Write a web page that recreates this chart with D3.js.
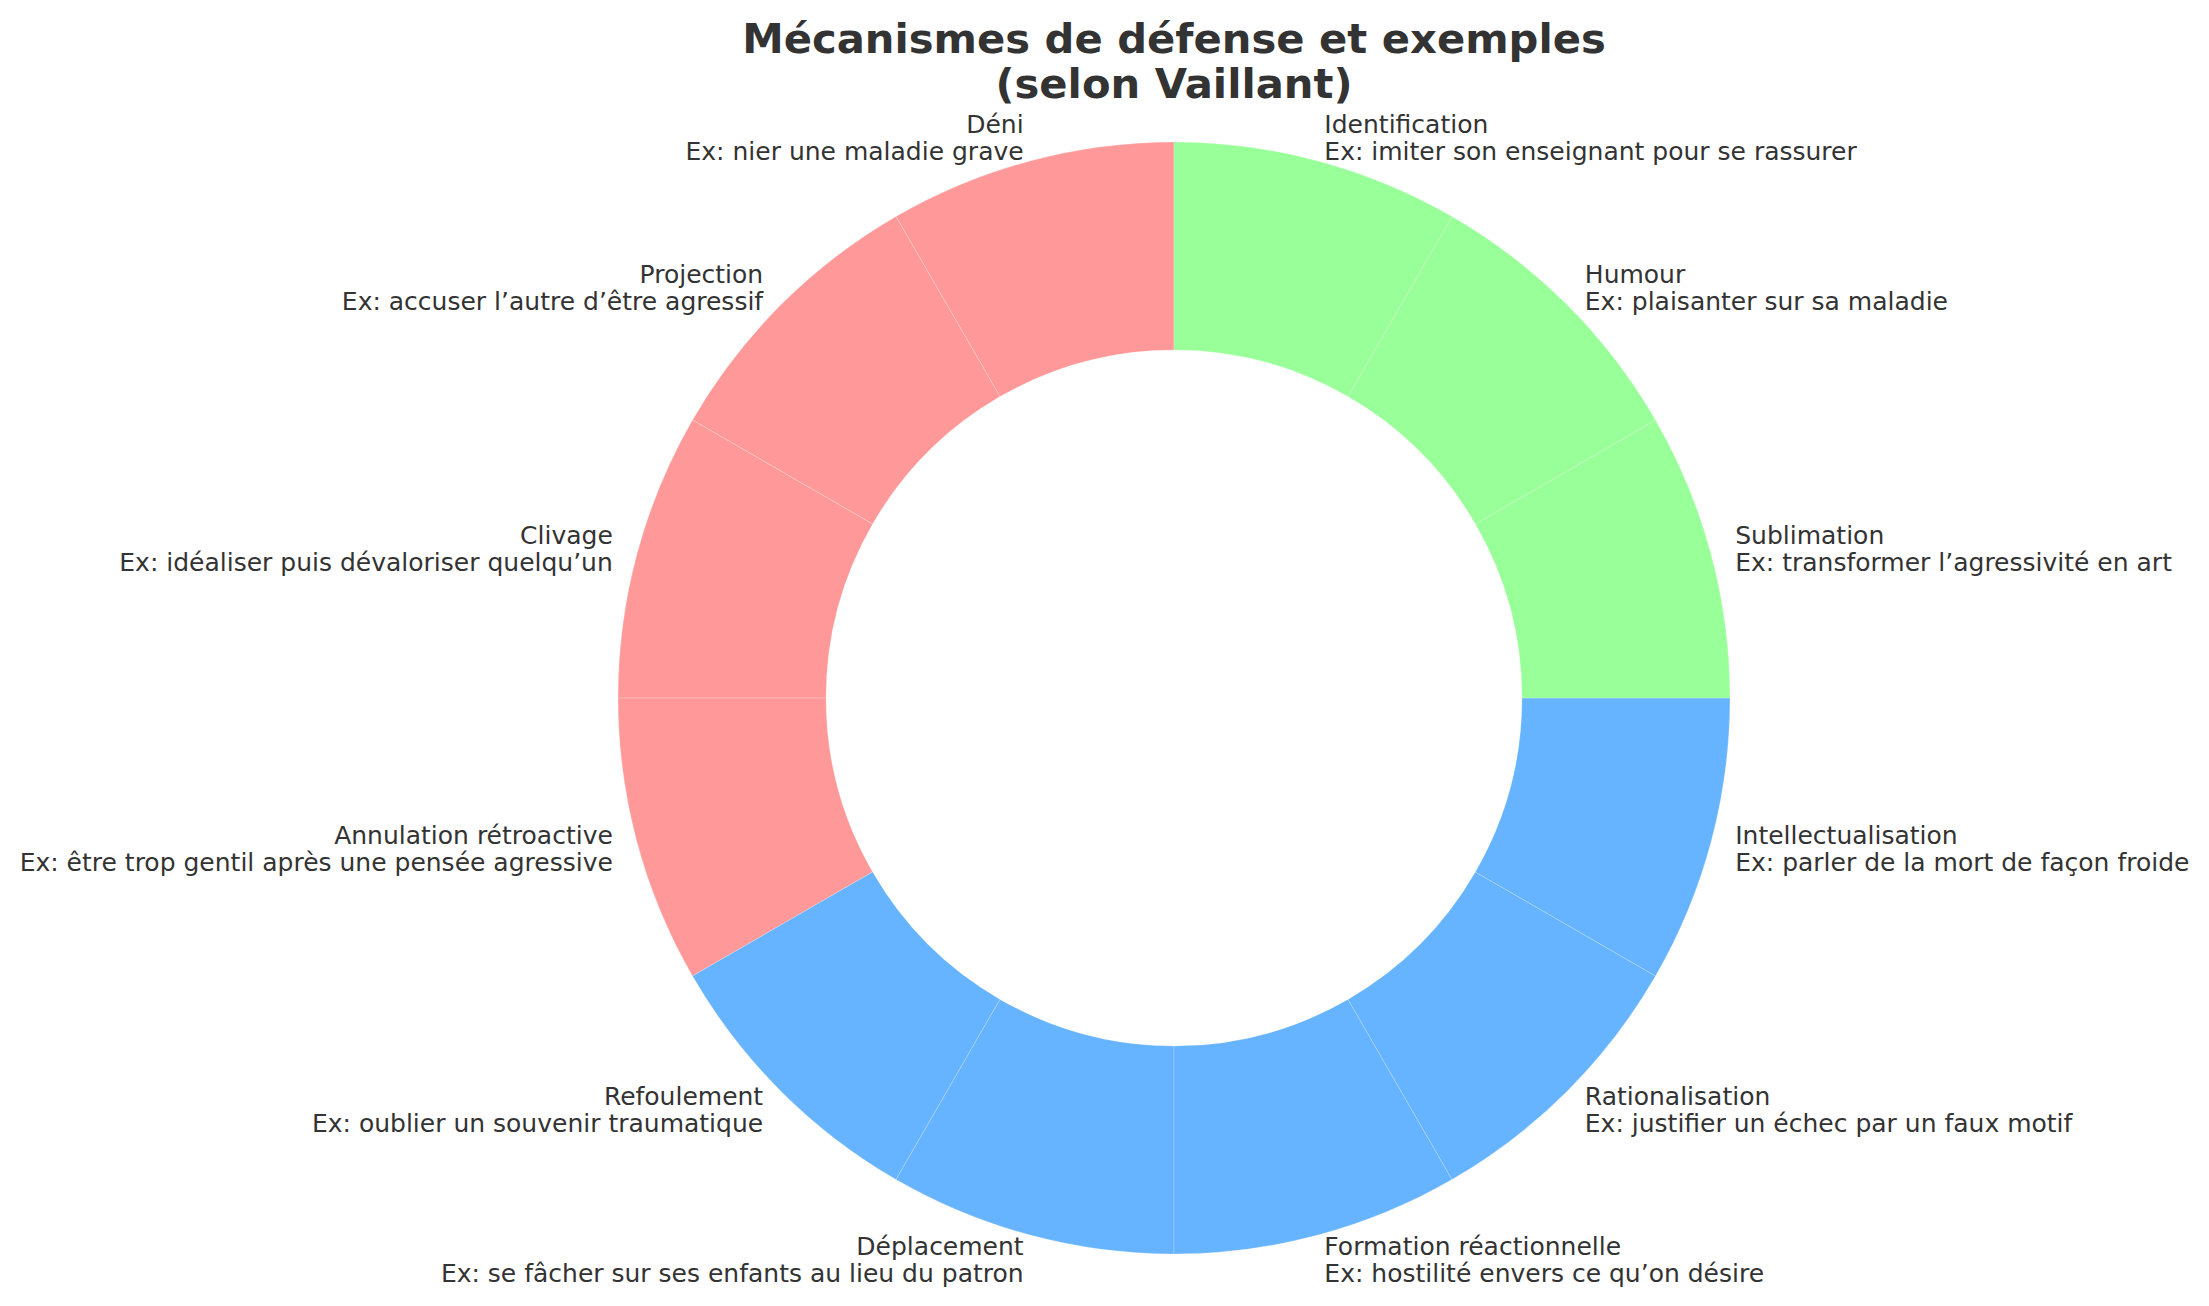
<!DOCTYPE html>
<html>
<head>
<meta charset="utf-8">
<script src="https://cdn.jsdelivr.net/npm/d3@7"></script>
<style>
  html, body { margin: 0; padding: 0; background: #ffffff; }
  svg { display: block; }
</style>
</head>
<body>
<svg id="chart" width="2209" height="1306"></svg>
<script>
const mechanisms = [
  "Déni", "Projection", "Clivage", "Annulation rétroactive",
  "Refoulement", "Déplacement", "Formation réactionnelle", "Rationalisation", "Intellectualisation",
  "Sublimation", "Humour", "Identification"
];
const examples = [
  "Ex: nier une maladie grave",
  "Ex: accuser l’autre d’être agressif",
  "Ex: idéaliser puis dévaloriser quelqu’un",
  "Ex: être trop gentil après une pensée agressive",
  "Ex: oublier un souvenir traumatique",
  "Ex: se fâcher sur ses enfants au lieu du patron",
  "Ex: hostilité envers ce qu’on désire",
  "Ex: justifier un échec par un faux motif",
  "Ex: parler de la mort de façon froide",
  "Ex: transformer l’agressivité en art",
  "Ex: plaisanter sur sa maladie",
  "Ex: imiter son enseignant pour se rassurer"
];
const levels = [
  "immature", "immature", "immature", "immature",
  "névrotique", "névrotique", "névrotique", "névrotique", "névrotique",
  "mature", "mature", "mature"
];
const values = [1, 1, 1, 1, 1, 1, 1, 1, 1, 1, 1, 1];
const levelNames = ["immature", "névrotique", "mature"];
const levelColors = ["#ff9999", "#66b3ff", "#99ff99"];
const titleLines = ["Mécanismes de défense et exemples", "(selon Vaillant)"];

const svg = d3.select("#chart");
const cx = 1174, cy = 698;
const outerR = 556, innerR = 348;
const labelR = 581;

const color = d3.scaleOrdinal().domain(levelNames).range(levelColors);

const data = mechanisms.map((m, i) => ({ name: m, ex: examples[i], level: levels[i], value: values[i] }));

const pie = d3.pie().sort(null).value(d => d.value).startAngle(0).endAngle(-2 * Math.PI);
const arcs = pie(data);
const arc = d3.arc().innerRadius(innerR).outerRadius(outerR);

const g = svg.append("g").attr("transform", `translate(${cx},${cy})`);

g.selectAll("path.slice")
  .data(arcs)
  .join("path")
  .attr("class", "slice")
  .attr("d", arc)
  .attr("fill", d => color(d.data.level))
  .attr("stroke", "#ffffff")
  .attr("stroke-opacity", 0.35)
  .attr("stroke-width", 0.6);

g.selectAll("text.label")
  .data(arcs)
  .join("text")
  .attr("class", "label")
  .attr("font-family", "DejaVu Sans, sans-serif")
  .attr("font-size", 25)
  .attr("fill", "#333333")
  .each(function(d) {
    const a = (d.startAngle + d.endAngle) / 2;
    const x = Math.sin(a) * labelR;
    const y = -Math.cos(a) * labelR;
    const t = d3.select(this)
      .attr("text-anchor", x > 0 ? "start" : "end");
    t.append("tspan").attr("x", x).attr("y", y - 4).text(d.data.name);
    t.append("tspan").attr("x", x).attr("y", y + 23).text(d.data.ex);
  });

svg.append("text")
  .attr("text-anchor", "middle")
  .attr("font-family", "DejaVu Sans, sans-serif")
  .attr("font-weight", "bold")
  .attr("font-size", 41.7)
  .attr("fill", "#333333")
  .selectAll("tspan")
  .data(titleLines)
  .join("tspan")
  .attr("x", cx)
  .attr("y", (d, i) => 53 + i * 45)
  .text(d => d);
</script>
</body>
</html>
